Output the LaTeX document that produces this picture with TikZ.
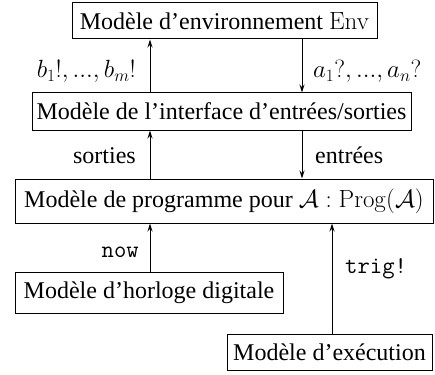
\documentclass[tikz,border=0pt]{standalone}
\usepackage[no-math]{fontspec}
\setmainfont{Liberation Serif}
\usetikzlibrary{arrows.meta}
\begin{document}
\begin{tikzpicture}[x=1pt,y=-1pt,
  box/.style={draw,line width=1pt,inner sep=0pt,font=\fontsize{24}{28}\selectfont},
  lbl/.style={inner sep=0pt,font=\fontsize{24}{28}\selectfont},
  mono/.style={inner sep=0pt,font=\fontsize{24}{28}\selectfont\ttfamily},
  arr/.style={line width=1pt,-{Stealth[length=8pt,width=5pt]}}]
\useasboundingbox (0,0) rectangle (435,374);
\node[box,minimum width=305,minimum height=36] (env) at (224.5,21) {Modèle d’environnement $\mathrm{Env}$};
\node[box,minimum width=379,minimum height=37] (ifc) at (221.5,111.5) {Modèle de l’interface d’entrées/sorties};
\node[box,minimum width=418,minimum height=44] (prog) at (224,201) {Modèle de programme pour $\mathcal{A}:\mathrm{Prog}(\mathcal{A})$};
\node[box,minimum width=268,minimum height=41] (clk) at (149,292.5) {Modèle d’horloge digitale};
\node[box,minimum width=205,minimum height=36] (exe) at (329.5,352) {Modèle d’exécution};
\coordinate (xl) at (150,0);
\coordinate (xr) at (302,0);
\coordinate (xt) at (332,0);
\draw[arr] (ifc.north -| xl) -- (env.south -| xl);
\draw[arr] (env.south -| xr) -- (ifc.north -| xr);
\draw[arr] (prog.north -| xl) -- (ifc.south -| xl);
\draw[arr] (ifc.south -| xr) -- (prog.north -| xr);
\draw[arr] (clk.north -| xl) -- (prog.south -| xl);
\draw[arr] (exe.north -| xt) -- (prog.south -| xt);
\node[lbl,anchor=base east] (lb) at (136,78) {$b_1!, ..., b_m!$};
\node[lbl,anchor=base west] (la) at (313,78) {$a_1?, ..., a_n?$};
\node[lbl,anchor=base east] (ls) at (136,163) {sorties};
\node[lbl,anchor=base west] (le) at (315,163) {entrées};
\node[mono,anchor=base east] (ln) at (139,257) {now};
\node[mono,anchor=base west] (lt) at (345,273) {trig!};
\end{tikzpicture}
\end{document}
